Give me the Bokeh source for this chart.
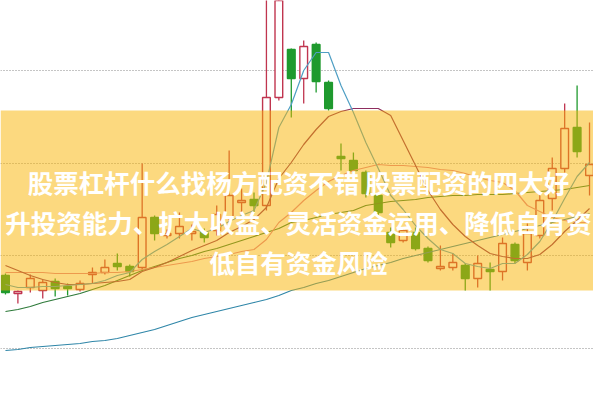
from bokeh.plotting import figure
from bokeh.models import Range1d, BoxAnnotation, Label, FixedTicker, ColumnDataSource
from bokeh.embed import file_html
from bokeh.resources import INLINE

# ---- data ----
idx = list(range(48))
opens = [9.25, 9.07, 9.13, 9.10, 9.19, 9.14, 9.11, 9.26, 9.28, 9.37, 9.34, 9.33,
         9.83, 9.65, 9.67, 9.67, 9.68, 9.70, 9.83, 9.98, 10.01, 9.95, 11.03, 11.51,
         11.22, 11.56, 11.18, 10.44, 10.40, 10.28, 10.05, 9.68, 9.60, 9.68, 9.52, 9.32,
         9.33, 9.35, 9.22, 9.31, 9.29, 9.56, 9.38, 9.65, 10.02, 10.32, 10.73, 10.25]
highs = [9.27, 9.10, 9.26, 9.21, 9.22, 9.17, 9.20, 9.33, 9.41, 9.47, 9.36, 10.37,
         9.85, 9.71, 9.88, 9.76, 9.72, 9.95, 10.50, 10.12, 10.08, 12.40, 12.80, 11.52,
         11.60, 11.58, 11.20, 10.57, 10.48, 10.30, 10.07, 9.73, 9.72, 9.73, 9.54, 9.55,
         9.47, 9.37, 9.45, 9.38, 9.63, 9.58, 9.77, 10.08, 10.43, 10.97, 11.15, 10.78]
lows = [9.06, 8.97, 9.08, 9.02, 9.04, 9.05, 9.09, 9.17, 9.26, 9.30, 9.24, 9.31,
        9.60, 9.62, 9.62, 9.60, 9.58, 9.65, 9.80, 9.87, 9.87, 9.90, 11.00, 10.83,
        10.97, 11.08, 10.90, 10.30, 10.27, 10.03, 9.85, 9.53, 9.58, 9.50, 9.38, 9.30,
        9.30, 9.10, 9.13, 9.10, 9.20, 9.37, 9.30, 9.62, 9.90, 10.28, 10.43, 10.05]
closes = [9.08, 9.09, 9.22, 9.18, 9.12, 9.12, 9.17, 9.28, 9.33, 9.34, 9.29, 9.83,
          9.67, 9.67, 9.74, 9.69, 9.63, 9.86, 10.05, 10.00, 9.95, 11.03, 12.60, 11.22,
          11.54, 11.19, 10.92, 10.42, 10.30, 10.07, 9.88, 9.58, 9.70, 9.52, 9.40, 9.34,
          9.38, 9.22, 9.37, 9.29, 9.57, 9.40, 9.67, 10.00, 10.32, 10.72, 10.49, 10.36]

ma5 = [9.16, 9.13, 9.13, 9.14, 9.14, 9.15, 9.16, 9.17, 9.20, 9.25, 9.28, 9.41,
       9.49, 9.56, 9.64, 9.72, 9.68, 9.72, 9.79, 9.85, 9.90, 10.18, 10.73, 10.96,
       11.30, 11.48, 11.48, 11.15, 10.88, 10.58, 10.32, 10.05, 9.91, 9.75, 9.62, 9.51,
       9.47, 9.37, 9.34, 9.32, 9.37, 9.37, 9.46, 9.59, 9.79, 10.02, 10.24, 10.38]
ma10 = [9.35, 9.30, 9.25, 9.21, 9.18, 9.16, 9.16, 9.17, 9.18, 9.19, 9.21, 9.29,
        9.33, 9.38, 9.44, 9.50, 9.55, 9.60, 9.68, 9.74, 9.81, 9.93, 10.22, 10.38,
        10.56, 10.71, 10.84, 10.89, 10.92, 10.92, 10.92, 10.85, 10.60, 10.35, 10.10, 9.91,
        9.76, 9.64, 9.55, 9.47, 9.44, 9.42, 9.42, 9.46, 9.56, 9.69, 9.80, 9.92]
ma20 = [9.28, 9.28, 9.28, 9.28, 9.27, 9.27, 9.27, 9.27, 9.28, 9.28, 9.29, 9.31,
        9.33, 9.35, 9.37, 9.39, 9.42, 9.44, 9.46, 9.49, 9.51, 9.61, 9.78, 9.88,
        10.00, 10.10, 10.19, 10.25, 10.30, 10.33, 10.36, 10.35, 10.35, 10.34, 10.33, 10.31,
        10.30, 10.27, 10.23, 10.20, 10.18, 10.10, 9.95, 9.89, 9.83, 9.80, 9.78, 9.78]
ma30 = [8.89, 8.91, 8.94, 8.98, 9.01, 9.04, 9.07, 9.11, 9.15, 9.20, 9.25, 9.30,
        9.34, 9.38, 9.42, 9.45, 9.49, 9.52, 9.56, 9.60, 9.64, 9.68, 9.72, 9.78,
        9.80, 9.83, 9.86, 9.88, 9.90, 9.95, 9.97, 9.99, 10.00, 10.01, 10.03, 10.04,
        10.05, 10.05, 10.06, 10.06, 10.06, 10.07, 10.08, 10.09, 10.10, 10.11, 10.13, 10.15]
ma60 = [8.50, 8.51, 8.53, 8.54, 8.55, 8.56, 8.57, 8.59, 8.60, 8.62, 8.65, 8.68,
        8.71, 8.75, 8.79, 8.83, 8.86, 8.89, 8.92, 8.95, 8.98, 9.01, 9.05, 9.10,
        9.13, 9.17, 9.20, 9.24, 9.28, 9.32, 9.35, 9.38, 9.42, 9.45, 9.48, 9.51,
        9.54, 9.57, 9.60, 9.63, 9.66, 9.69, 9.72, 9.75, 9.78, 9.81, 9.84, 9.87]

grid_levels = [11.30, 10.375, 9.45, 8.525]
banner_top = 10.90
banner_bottom = 9.10
title_lines = ["股票杠杆什么找杨方配资不错 股票配资的四大好",
               "升投资能力、扩大收益、灵活资金运用、降低自有资",
               "低自有资金风险"]

# ---- styles ----
UP = "#c0354f"
DOWN = "#1f9a2e"

up_flags = [c >= o for o, c in zip(opens, closes)]
src = ColumnDataSource(dict(
    x=idx,
    high=highs,
    low=lows,
    top=[max(o, c) for o, c in zip(opens, closes)],
    bottom=[min(o, c) for o, c in zip(opens, closes)],
    line=[UP if u else DOWN for u in up_flags],
    fill=["white" if u else DOWN for u in up_flags],
))

p = figure(width=593, height=392,
           x_range=Range1d(-0.40, 47.32), y_range=Range1d(8.08, 12.0),
           output_backend="svg", toolbar_location=None, min_border=0,
           background_fill_color="white", border_fill_color="white")
p.outline_line_color = None
p.xaxis.visible = False
p.yaxis.visible = False
p.xgrid.visible = False
p.yaxis.ticker = FixedTicker(ticks=grid_levels)
p.ygrid.ticker = FixedTicker(ticks=grid_levels)
p.ygrid.grid_line_color = "#8a8a8a"
p.ygrid.grid_line_dash = "1 2"
p.ygrid.grid_line_width = 1

p.segment(x0="x", y0="low", x1="x", y1="high", line_color="line",
          line_width=1.3, source=src)
p.vbar(x="x", width=0.62, top="top", bottom="bottom", fill_color="fill",
       line_color="line", line_width=1.4, source=src)

for vals, col in [(ma60, "#2f86a8"), (ma30, "#2e7a3a"), (ma20, "#e0809a"),
                  (ma10, "#8e2d5e"), (ma5, "#4f9fc4")]:
    p.line(idx, vals, line_color=col, line_width=1.2)

banner = BoxAnnotation(bottom=banner_bottom, top=banner_top,
                       fill_color="#F9B300", fill_alpha=0.5, line_alpha=0)
p.add_layout(banner)

label_y = [10.19, 9.79, 9.39]
for txt, yy in zip(title_lines, label_y):
    p.add_layout(Label(x=23.58, y=yy, text=txt, text_align="center",
                       text_baseline="middle", text_color="white",
                       text_font="Noto Sans CJK SC", text_font_style="bold",
                       text_font_size="25.5px"))

open("out.html", "w").write(file_html(p, INLINE))
